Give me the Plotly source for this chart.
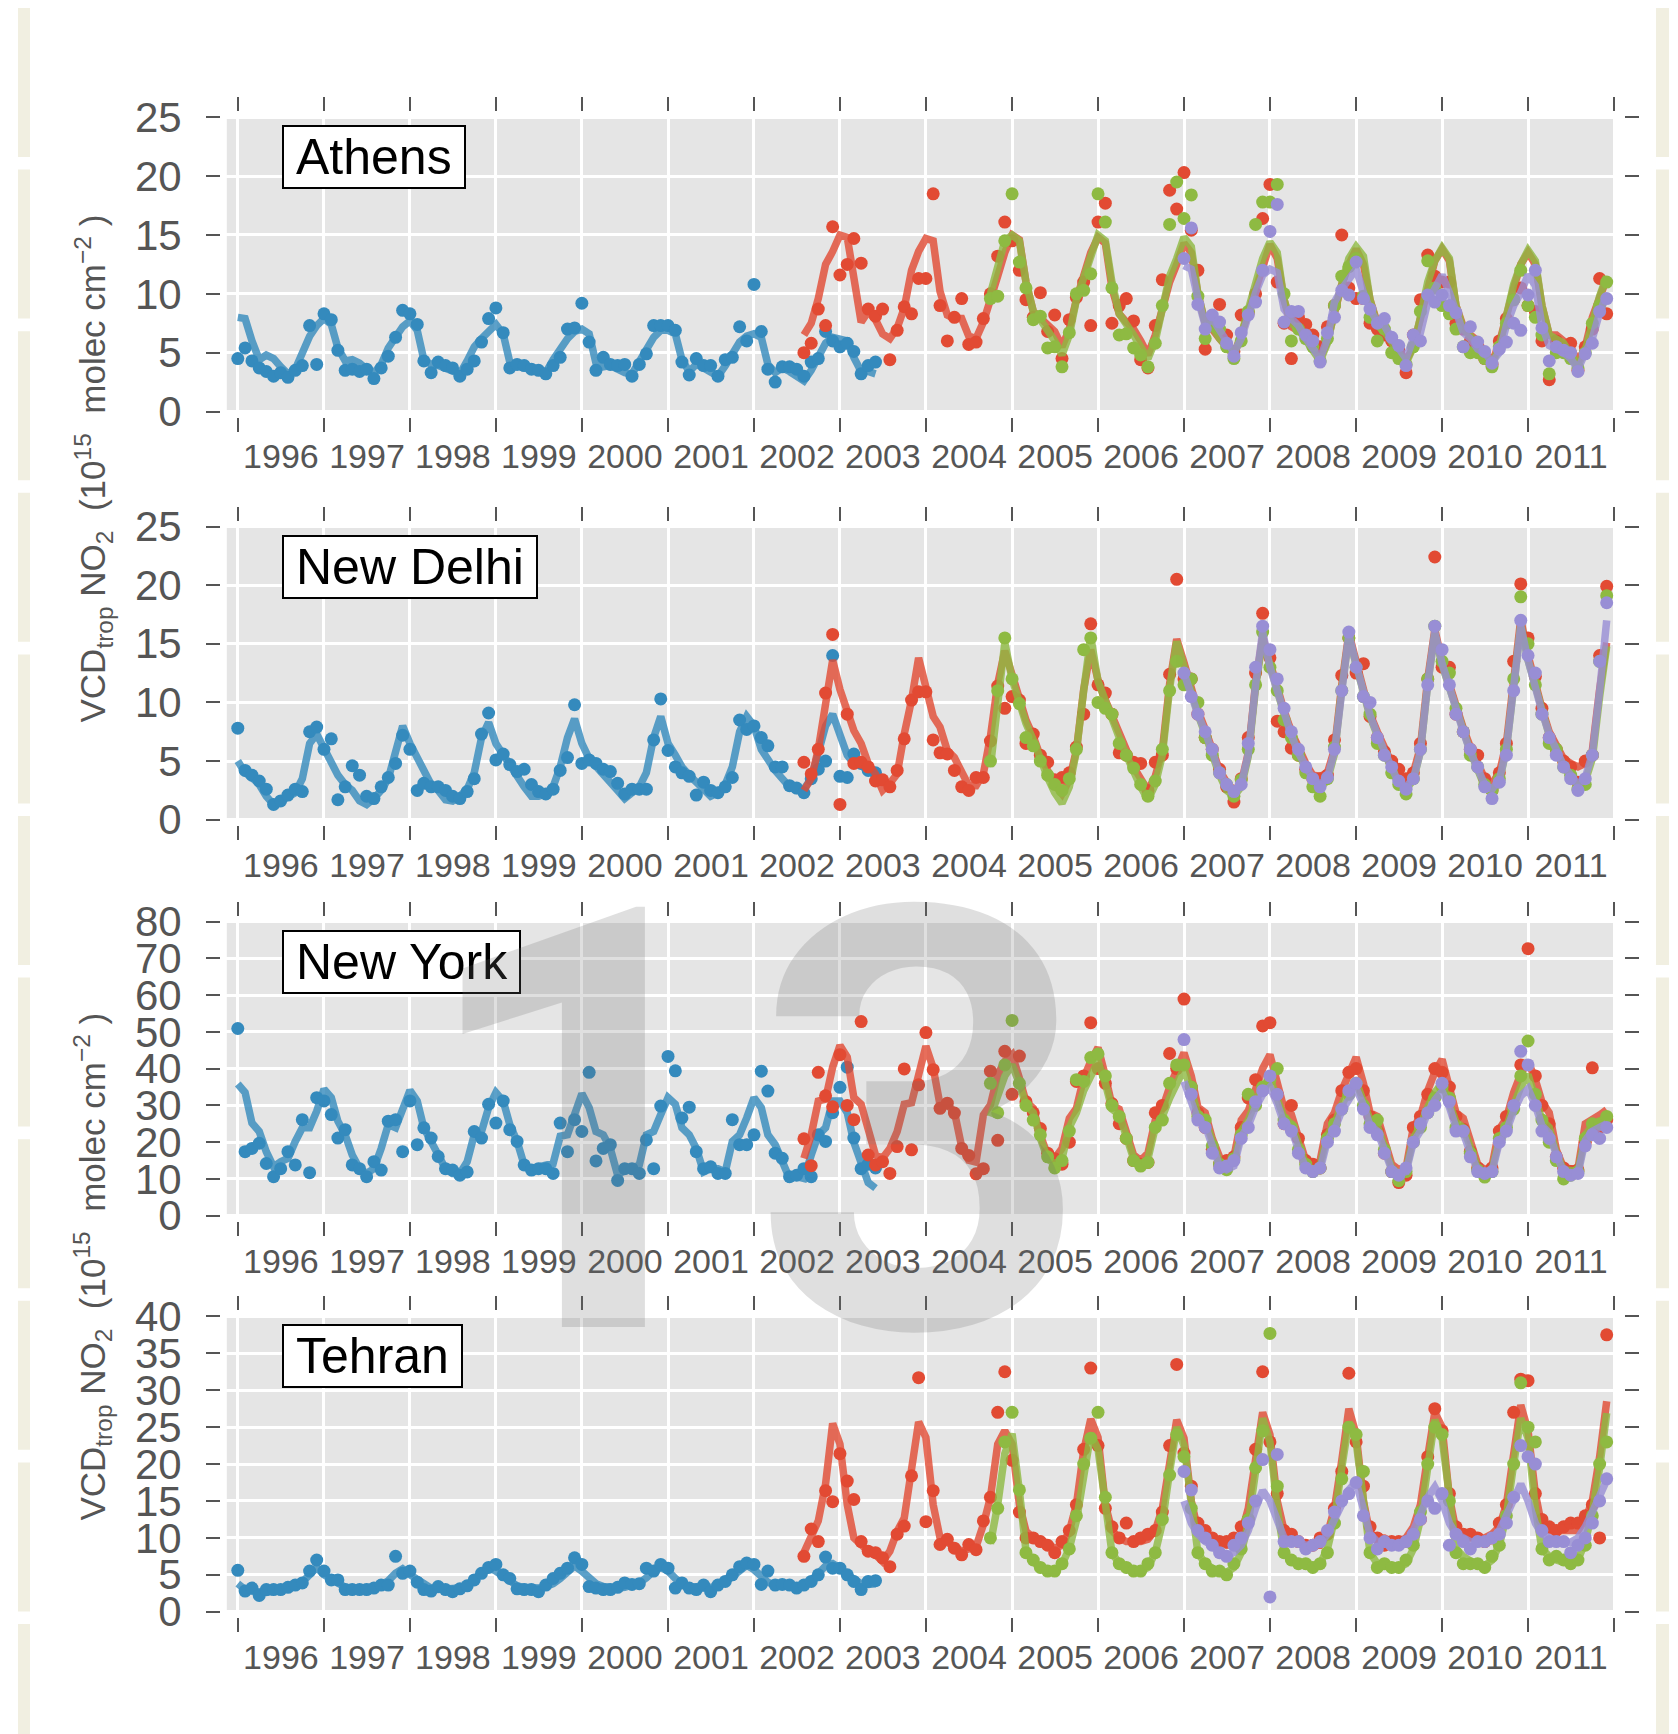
import pandas as pd
import plotly.graph_objects as go

W, H = 1678, 1734

# ---------------- data (10^15 molec cm^-2), monthly ----------------
GOME_START, SCIA_START, OMI_START, GOME2_START = "1996-01-01", "2002-08-01", "2004-10-01", "2007-01-01"

# ---- Athens ----
ATH_GOME = [4.5, 5.4, 4.3, 3.7, 3.4, 3.0, 3.3, 2.9, 3.5, 3.9, 7.3, 4.0,
            8.3, 7.8, 5.2, 3.5, 3.6, 3.4, 3.6, 2.8, 3.7, 4.7, 6.3, 8.6,
            8.3, 7.4, 4.3, 3.3, 4.2, 3.9, 3.7, 3.0, 3.6, 4.3, 5.9, 7.9,
            8.8, 6.7, 3.7, 4.0, 3.9, 3.6, 3.5, 3.2, 3.9, 4.6, 7.0, 7.1,
            9.2, 5.9, 3.5, 4.6, 4.0, 3.9, 4.0, 3.0, 4.0, 4.9, 7.3, 7.3,
            7.3, 6.9, 4.2, 3.1, 4.5, 3.9, 3.9, 3.0, 4.4, 4.6, 7.2, 6.0,
            10.8, 6.8, 3.6, 2.5, 3.8, 3.8, 3.6, 3.0, 4.2, 4.5, 6.8, 6.0,
            5.5, 5.8, 5.1, 3.2, 3.9, 4.2]
ATH_GOME_FIT = [8.0, 7.9, 6.0, 4.4, 4.8, 4.5, 3.8, 3.2, 3.6, 5.0, 6.4, 7.3,
                7.9, 7.4, 5.4, 4.3, 4.4, 4.1, 3.6, 3.3, 4.0, 5.4, 6.3, 7.2,
                7.7, 6.9, 4.4, 4.0, 3.9, 3.7, 3.4, 3.2, 4.3, 5.5, 6.2, 6.8,
                7.4, 6.6, 4.2, 3.9, 3.8, 3.6, 3.4, 3.3, 4.4, 5.4, 6.2, 6.8,
                7.0, 6.6, 4.1, 3.8, 3.9, 3.6, 3.3, 3.2, 4.3, 5.5, 6.3, 6.9,
                6.9, 6.6, 4.4, 3.4, 4.0, 3.7, 3.3, 3.0, 3.9, 5.0, 5.9, 6.4,
                6.6, 6.3, 4.0, 3.3, 3.7, 3.4, 3.0, 2.6, 3.5, 4.6, 5.8, 6.3,
                6.2, 6.0, 4.6, 3.4, 3.4, 3.2]
ATH_SCIA = [5.0, 5.8, 8.7, 7.3, 15.7,
            11.6, 12.5, 14.7, 12.6, 8.7, 8.1, 8.7, 4.4, 6.9, 8.9, 8.3, 11.3,
            11.3, 18.5, 9.0, 6.0, 8.0, 9.6, 5.7, 5.9, 7.9, 10.0, 13.2, 16.1,
            14.5, 12.0, 9.5, 8.0, 10.1, 6.8, 8.2, 4.5, 7.8, 9.7, 11.0, 7.3,
            16.1, 17.7, 7.5, 9.0, 9.6, 7.7, 4.4, 3.7, 7.3, 11.2, 18.8, 17.2,
            20.3, 15.4, 12.0, 5.3, 7.5, 9.1, 6.5, 5.1, 8.2, 8.4, 10.0, 16.4,
            19.3, 11.0, 7.5, 4.5, 8.0, 7.4, 6.5, 5.5, 7.2, 9.0, 15.0, 10.5,
            9.6, 9.6, 7.5, 7.0, 6.5, 6.0, 5.2, 3.3, 6.5, 9.5, 13.3, 11.5,
            11.0, 11.0, 7.5, 7.0, 6.0, 5.5, 4.5, 4.0, 6.0, 7.9, 9.5, 10.5,
            9.0, 8.5, 6.0, 2.7, 6.0, 5.5, 5.8, 3.5, 5.5, 7.0, 11.3, 8.3]
ATH_SCIA_FIT = [6.5, 7.5, 9.6, 12.5, 13.6,
                15.0, 14.8, 11.0, 7.6, 8.5, 7.8, 6.6, 6.2, 7.1, 8.8, 12.0, 13.6,
                14.7, 14.5, 10.2, 8.2, 7.9, 7.9, 6.4, 6.2, 7.6, 9.3, 11.5, 13.5,
                15.0, 14.6, 11.0, 8.5, 8.0, 7.5, 6.8, 5.5, 7.0, 9.5, 11.5, 13.5,
                14.8, 14.3, 10.5, 8.3, 7.6, 7.0, 6.0, 4.8, 6.5, 9.0, 11.0, 12.5,
                14.3, 13.5, 10.0, 7.5, 7.0, 6.2, 5.5, 4.8, 6.5, 8.5, 10.5, 12.5,
                14.2, 13.0, 9.5, 7.2, 6.8, 6.5, 5.5, 4.5, 6.0, 8.5, 10.8, 12.5,
                13.8, 12.5, 9.5, 7.5, 7.0, 6.3, 5.2, 4.3, 5.5, 8.0, 10.5, 12.8,
                13.8, 12.8, 9.0, 7.2, 6.5, 6.0, 5.0, 4.2, 5.8, 8.3, 10.5, 12.5,
                13.5, 12.5, 9.0, 6.5, 6.5, 6.0, 5.5, 4.2, 5.5, 8.0, 9.8, 11.3]
ATH_OMI = [9.6, 9.8, 14.5,
           18.5, 12.7, 10.5, 7.8, 8.1, 5.4, 5.5, 3.8, 6.7, 10.0, 10.3, 11.7,
           18.5, 16.1, 10.5, 6.5, 6.6, 5.4, 4.8, 3.8, 5.8, 9.0, 15.9, 19.5,
           16.4, 18.4, 9.8, 6.2, 7.3, 7.0, 5.5, 4.5, 6.0, 8.5, 15.9, 17.8,
           17.8, 19.3, 10.0, 6.0, 7.0, 6.2, 5.5, 4.3, 6.2, 9.0, 11.5, 12.3,
           13.0, 9.8, 8.0, 6.0, 7.0, 5.0, 4.5, 4.0, 5.5, 8.5, 12.8, 10.5,
           9.0, 8.3, 7.0, 5.5, 5.0, 5.0, 4.5, 3.8, 5.5, 7.5, 9.5, 12.0,
           9.0, 8.0, 6.5, 3.2, 5.0, 5.0, 4.5, 3.7, 5.0, 7.5, 9.0, 11.0]
ATH_OMI_FIT = [10.0, 12.5, 14.5,
               15.0, 14.5, 11.0, 8.5, 7.8, 7.0, 6.0, 4.8, 6.5, 9.5, 11.5, 13.5,
               15.0, 14.5, 11.0, 8.3, 7.5, 6.5, 5.5, 4.5, 6.0, 9.0, 11.5, 13.0,
               14.8, 14.0, 10.0, 7.5, 7.2, 6.2, 5.5, 4.8, 6.5, 8.5, 11.0, 13.0,
               14.4, 13.5, 9.5, 7.5, 7.0, 6.2, 5.2, 4.3, 5.8, 8.5, 11.0, 13.0,
               14.0, 13.2, 9.5, 7.3, 6.8, 6.0, 5.0, 4.1, 5.5, 8.0, 11.0, 12.8,
               13.9, 13.0, 9.0, 7.0, 6.5, 5.8, 4.8, 4.0, 5.5, 8.0, 10.8, 12.5,
               13.7, 12.8, 9.0, 6.5, 6.2, 5.8, 4.8, 3.9, 5.2, 7.8, 9.8, 11.5]
ATH_GOME2 = [13.0, 15.6, 9.1, 7.0, 8.2, 7.6, 5.8, 4.7, 6.7, 8.2, 9.3, 12.0,
             15.3, 17.6, 7.6, 8.5, 8.5, 6.5, 6.0, 4.2, 6.7, 8.0, 10.3, 9.9,
             12.7, 9.6, 8.7, 7.5, 7.9, 6.3, 5.6, 3.9, 6.5, 6.0, 9.9, 9.3,
             9.9, 9.0, 8.4, 5.5, 7.2, 5.9, 5.1, 4.1, 5.3, 5.9, 7.5, 6.9,
             9.9, 12.0, 7.1, 4.3, 5.5, 5.2, 5.0, 3.4, 4.9, 5.8, 8.5, 9.6]
ATH_GOME2_FIT = [12.4, 12.1, 9.6, 7.3, 7.9, 7.0, 5.9, 5.0, 6.2, 8.4, 10.1, 11.6,
                 12.1, 11.8, 8.7, 7.9, 7.3, 6.2, 5.3, 4.5, 6.2, 9.3, 10.4, 11.3,
                 12.1, 10.1, 8.7, 7.6, 7.3, 6.2, 5.3, 4.5, 6.2, 6.7, 9.3, 10.4,
                 11.6, 10.1, 8.4, 6.7, 6.2, 5.3, 5.0, 4.2, 5.0, 7.3, 9.0, 10.1,
                 11.6, 10.7, 7.3, 5.6, 5.3, 5.0, 4.5, 3.6, 5.0, 6.2, 8.4, 9.9]

# ---- New Delhi ----
DEL_GOME = [7.8, 4.2, 3.8, 3.3, 2.6, 1.3, 1.6, 2.1, 2.6, 2.4, 7.5, 7.9,
            6.0, 6.9, 1.7, 2.8, 4.6, 3.8, 2.0, 1.8, 2.8, 3.6, 4.8, 7.2,
            6.0, 2.5, 3.1, 2.8, 2.8, 2.5, 2.0, 1.8, 2.4, 3.5, 7.3, 9.1,
            5.1, 5.6, 4.7, 4.1, 4.3, 3.0, 2.4, 2.2, 2.6, 4.2, 5.3, 9.8,
            4.8, 5.1, 4.8, 4.3, 4.1, 3.1, 2.2, 2.6, 2.6, 2.6, 6.8, 10.3,
            5.9, 4.5, 4.0, 3.7, 2.1, 3.2, 2.5, 2.3, 2.8, 3.6, 8.5, 7.7,
            8.0, 7.0, 6.3, 4.5, 4.5, 2.9, 2.7, 2.3, 3.5, 4.3, 5.0, 14.0,
            3.7, 3.6, 5.6, 4.8, 4.2, 4.0]
DEL_GOME_FIT = [5.0, 4.0, 3.6, 3.0, 2.0, 1.3, 1.6, 2.0, 2.3, 3.5, 6.5, 7.3,
                6.0, 4.8, 3.8, 3.0, 2.5, 1.6, 1.3, 1.8, 2.5, 3.5, 6.0, 8.0,
                6.5, 5.3, 4.3, 3.0, 2.5, 1.7, 1.6, 2.0, 2.6, 4.0, 7.0, 8.3,
                6.5, 5.5, 4.5, 3.5, 2.8, 2.0, 2.0, 2.2, 2.8, 4.5, 7.0, 8.6,
                6.5, 5.2, 4.5, 3.8, 3.0, 2.5, 1.8, 2.3, 2.8, 4.0, 7.0, 8.8,
                6.5, 5.5, 4.5, 3.8, 3.2, 2.5, 2.0, 2.3, 3.0, 4.5, 7.5, 8.8,
                8.0, 6.0, 5.0, 4.2, 3.5, 2.8, 2.5, 2.6, 3.5, 5.5, 8.0, 9.0,
                7.0, 5.5, 4.8, 4.6, 4.2, 4.0]
DEL_SCIA = [4.9, 3.9, 6.0, 10.8, 15.8,
            1.3, 9.0, 4.8, 4.9, 4.5, 3.3, 3.4, 2.8, 4.2, 6.9, 10.2, 10.9,
            10.9, 6.8, 5.7, 5.6, 4.2, 2.8, 2.5, 3.6, 3.6, 6.7, 11.4, 9.5,
            10.5, 10.2, 6.5, 7.3, 5.5, 4.9, 3.4, 3.6, 4.0, 6.2, 9.0, 16.7,
            11.5, 10.8, 9.0, 5.7, 5.5, 4.9, 4.8, 2.5, 4.9, 5.5, 12.4, 20.5,
            12.0, 12.0, 9.0, 7.0, 6.0, 4.3, 2.8, 1.5, 3.5, 7.0, 12.5, 17.6,
            13.8, 8.4, 7.5, 6.1, 5.5, 4.3, 3.5, 3.5, 3.8, 6.8, 12.3, 15.5,
            12.5, 13.3, 8.8, 7.0, 5.8, 5.0, 4.3, 3.5, 4.0, 6.5, 12.0, 22.4,
            13.0, 13.0, 9.0, 7.5, 6.0, 5.5, 3.5, 2.5, 4.0, 6.5, 13.5, 20.1,
            15.5, 12.2, 9.5, 7.0, 6.0, 5.0, 4.5, 3.2, 5.0, 5.5, 14.0, 19.9]
DEL_SCIA_FIT = [2.5, 3.5, 6.0, 10.0, 13.6,
                11.1, 9.1, 7.6, 6.5, 4.8, 3.9, 2.5, 3.1, 3.9, 7.3, 10.2, 13.8,
                11.1, 8.8, 7.9, 5.9, 5.3, 4.2, 2.9, 2.9, 3.9, 7.1, 11.6, 14.4,
                12.2, 10.0, 8.5, 7.1, 5.4, 4.2, 3.0, 2.2, 3.4, 5.9, 11.1, 14.5,
                11.9, 10.2, 8.8, 7.4, 5.9, 4.5, 3.5, 2.5, 3.7, 5.9, 11.6, 15.4,
                13.4, 11.1, 9.3, 7.7, 5.9, 4.2, 3.2, 2.5, 3.1, 5.7, 11.6, 15.6,
                13.4, 11.0, 9.3, 7.5, 6.0, 4.8, 3.8, 3.7, 4.0, 6.0, 11.5, 15.9,
                13.5, 11.0, 9.0, 7.5, 6.0, 4.8, 3.6, 3.4, 4.0, 6.2, 12.0, 16.2,
                13.5, 11.5, 9.5, 7.8, 6.2, 4.8, 3.5, 3.1, 4.0, 6.5, 12.5, 17.1,
                14.0, 11.5, 9.5, 7.5, 6.2, 5.2, 4.8, 4.5, 4.8, 5.9, 11.1, 15.1]
DEL_OMI = [5.0, 11.0, 15.5,
           12.0, 9.9, 7.0, 6.3, 5.0, 3.8, 3.0, 2.5, 3.5, 6.0, 14.5, 15.5,
           10.0, 9.5, 9.0, 6.5, 5.5, 4.4, 3.0, 2.0, 3.3, 6.0, 11.0, 13.5,
           11.5, 12.0, 10.0, 7.0, 5.5, 4.0, 3.0, 2.0, 3.4, 6.0, 11.5, 16.0,
           13.0, 11.0, 8.5, 7.0, 5.5, 4.0, 2.8, 2.0, 3.5, 6.2, 11.0, 15.5,
           13.0, 10.5, 9.0, 6.5, 5.5, 4.0, 3.0, 2.2, 3.5, 6.0, 12.0, 16.5,
           13.5, 12.5, 9.5, 7.5, 5.5, 4.5, 3.0, 2.5, 3.5, 6.0, 12.0, 19.0,
           15.0, 11.5, 9.0, 6.5, 6.0, 4.5, 3.8, 2.6, 3.0, 5.5, 13.5, 19.1]
DEL_OMI_FIT = [4.5, 10.0, 15.1,
               12.0, 9.8, 8.2, 6.8, 5.0, 3.6, 2.3, 1.4, 2.8, 5.8, 11.0, 15.6,
               11.8, 10.0, 8.5, 7.0, 5.5, 4.0, 2.8, 1.7, 3.0, 5.5, 11.2, 15.2,
               13.0, 10.8, 9.0, 7.3, 5.5, 3.8, 2.5, 2.0, 2.8, 5.4, 11.3, 15.4,
               13.2, 10.8, 9.0, 7.2, 5.6, 4.3, 3.2, 2.7, 3.4, 5.6, 11.2, 15.6,
               13.2, 10.7, 8.8, 7.2, 5.6, 4.3, 3.0, 2.6, 3.4, 5.8, 11.6, 15.9,
               13.2, 11.2, 9.2, 7.5, 5.8, 4.3, 2.8, 2.3, 3.3, 6.0, 12.0, 16.6,
               13.6, 11.2, 9.2, 7.2, 5.8, 4.6, 3.8, 2.8, 3.3, 5.2, 10.5, 14.8]
DEL_GOME2 = [12.5, 10.5, 9.0, 7.5, 6.0, 4.0, 3.0, 2.4, 3.0, 6.5, 13.0, 16.5,
             14.5, 12.0, 9.5, 7.5, 6.0, 4.5, 3.5, 2.8, 3.6, 6.0, 11.0, 16.0,
             13.0, 10.5, 10.0, 7.0, 5.5, 4.5, 3.3, 2.6, 3.5, 6.0, 11.5, 16.5,
             14.5, 11.5, 9.0, 7.5, 6.0, 4.5, 2.8, 1.8, 3.2, 5.5, 11.0, 17.0,
             14.0, 12.5, 9.0, 7.0, 5.5, 4.5, 3.5, 2.5, 3.5, 5.5, 13.5, 18.5]
DEL_GOME2_FIT = [12.5, 10.5, 9.0, 7.5, 5.8, 4.0, 3.0, 2.4, 3.0, 5.6, 11.5, 16.0,
                 13.0, 11.0, 9.0, 7.2, 5.7, 4.5, 3.5, 3.0, 3.6, 5.8, 11.2, 15.8,
                 13.2, 10.8, 8.9, 7.3, 5.7, 4.4, 3.2, 2.8, 3.5, 5.8, 11.6, 16.0,
                 13.3, 11.2, 9.2, 7.5, 5.8, 4.4, 3.0, 2.6, 3.4, 6.0, 12.0, 16.5,
                 13.6, 11.2, 9.2, 7.3, 5.8, 4.6, 3.8, 3.0, 3.6, 5.6, 11.0, 17.0]

# ---- New York ----
NY_GOME = [50.9, 17.4, 18.3, 19.7, 14.2, 10.6, 12.8, 17.4, 13.8, 26.1, 11.7, 32.1,
           31.2, 27.5, 21.1, 23.4, 13.8, 12.8, 10.6, 14.7, 12.4, 25.7, 26.1, 17.4,
           31.2, 19.3, 23.9, 21.1, 16.1, 12.8, 12.4, 11.0, 11.9, 22.9, 21.1, 30.3,
           25.2, 31.2, 23.4, 20.2, 13.8, 12.4, 12.8, 12.8, 11.5, 25.2, 17.4, 26.1,
           22.9, 39.0, 14.9, 18.3, 19.3, 9.6, 12.8, 12.8, 11.5, 20.6, 12.8, 29.8,
           43.3, 39.4, 26.6, 29.5, 17.4, 12.8, 13.3, 11.5, 11.5, 26.1, 19.3, 19.3,
           22.0, 39.3, 33.9, 17.0, 15.6, 10.6, 11.0, 12.8, 10.6, 22.0, 20.2, 28.0,
           34.9, 40.4, 21.1, 12.8, 14.0, 13.0]
NY_GOME_FIT = [35.8, 33.5, 25.2, 22.9, 17.4, 13.3, 14.7, 15.6, 20.2, 23.9, 23.9, 28.4,
               34.4, 32.1, 25.7, 22.0, 16.5, 12.8, 11.5, 12.8, 18.3, 24.8, 23.9, 29.4,
               34.1, 31.2, 23.9, 20.2, 16.5, 12.8, 11.5, 11.5, 14.7, 22.0, 22.9, 29.4,
               33.5, 31.2, 24.8, 20.2, 13.8, 12.8, 13.3, 13.8, 14.2, 21.6, 22.0, 27.5,
               33.2, 29.4, 22.9, 22.0, 18.3, 11.0, 12.4, 12.8, 13.8, 22.0, 22.9, 27.5,
               32.1, 30.3, 23.9, 22.0, 18.3, 11.9, 12.8, 12.8, 11.9, 20.2, 22.0, 26.6,
               32.1, 29.4, 22.0, 19.3, 14.7, 10.1, 10.6, 10.1, 16.5, 22.0, 23.9, 31.2,
               31.2, 28.0, 20.0, 14.0, 9.0, 7.5]
NY_SCIA = [20.9, 13.6, 39.0, 32.6, 29.6,
           43.8, 30.0, 26.1, 52.8, 16.5, 13.8, 14.7, 11.5, 18.8, 39.9, 17.9, 35.6,
           49.8, 39.7, 29.2, 30.6, 27.9, 18.3, 16.4, 11.4, 12.8, 39.3, 20.5, 44.7,
           33.0, 43.4, 31.0, 28.0, 23.7, 17.0, 15.5, 14.0, 20.0, 36.5, 38.0, 52.5,
           40.0, 36.0, 30.5, 25.0, 21.0, 15.0, 14.0, 14.5, 28.0, 30.0, 44.1, 40.0,
           58.9, 35.0, 28.0, 24.0, 18.0, 14.0, 15.0, 16.0, 24.0, 32.0, 37.0, 51.6,
           52.5, 33.0, 25.0, 30.0, 21.0, 15.0, 14.0, 13.0, 22.0, 26.0, 34.0, 39.0,
           40.0, 34.0, 27.0, 23.0, 17.0, 12.0, 9.0, 11.0, 24.0, 27.0, 33.0, 40.0,
           39.0, 35.0, 27.0, 23.5, 17.5, 13.0, 11.5, 13.0, 23.0, 27.0, 30.0, 41.0,
           72.6, 38.0, 30.0, 25.0, 16.0, 13.0, 12.0, 12.5, 20.0, 40.2, 24.0, 26.0]
NY_SCIA_FIT = [15.6, 22.0, 31.2, 31.7, 40.4,
               46.3, 43.1, 32.1, 30.3, 22.9, 16.5, 15.6, 18.3, 22.9, 30.3, 30.7, 38.0,
               46.1, 40.2, 30.1, 30.1, 28.3, 18.7, 15.1, 14.6, 27.4, 30.1, 38.4, 42.0,
               43.8, 37.4, 31.0, 29.2, 21.9, 16.4, 15.5, 18.3, 26.5, 29.2, 37.4, 42.0,
               45.7, 38.0, 30.0, 29.0, 22.0, 16.5, 15.0, 17.0, 26.0, 29.0, 35.0, 40.0,
               44.3, 38.0, 29.5, 28.0, 21.0, 16.0, 14.5, 16.0, 26.0, 28.5, 35.0, 40.0,
               43.8, 37.0, 29.0, 27.5, 20.5, 15.0, 13.5, 15.0, 25.0, 28.0, 34.0, 39.0,
               43.1, 36.0, 28.0, 27.0, 20.0, 14.0, 12.5, 13.0, 24.0, 27.0, 34.0, 39.0,
               42.5, 35.5, 28.0, 26.5, 19.5, 14.0, 12.5, 13.5, 23.5, 26.5, 33.5, 38.5,
               42.0, 37.0, 31.0, 28.0, 18.0, 13.0, 12.8, 12.8, 25.0, 26.0, 27.4, 28.8]
NY_OMI = [36.0, 28.0, 41.0,
          53.1, 36.0, 30.0, 26.0, 22.0, 16.0, 13.0, 15.0, 23.0, 37.0, 36.5, 43.0,
          44.0, 38.0, 30.0, 27.0, 21.0, 15.0, 13.5, 14.5, 24.0, 26.0, 36.0, 41.0,
          41.0, 35.0, 27.0, 26.0, 19.0, 14.0, 12.5, 15.5, 22.0, 33.0, 30.0, 35.0,
          37.0, 40.0, 26.0, 24.0, 18.0, 14.0, 12.0, 13.0, 21.0, 25.0, 29.0, 33.0,
          36.0, 30.0, 25.0, 26.0, 18.0, 12.0, 9.5, 12.0, 20.0, 24.0, 28.0, 32.0,
          35.0, 32.0, 24.0, 23.0, 17.0, 12.5, 10.5, 12.0, 21.0, 24.0, 29.0, 38.0,
          47.5, 33.0, 26.0, 20.0, 15.0, 10.0, 11.0, 12.0, 21.0, 25.0, 25.0, 27.0]
NY_OMI_FIT = [27.0, 33.0, 38.0,
              41.0, 36.0, 30.0, 28.0, 21.0, 15.5, 14.0, 15.5, 24.0, 28.0, 34.0, 38.0,
              42.0, 36.0, 29.0, 27.5, 21.0, 15.5, 14.0, 15.5, 24.0, 27.0, 32.0, 36.0,
              40.0, 34.0, 27.5, 26.0, 20.0, 14.5, 13.0, 14.5, 23.0, 26.0, 31.0, 35.0,
              37.4, 32.0, 26.5, 25.0, 19.0, 14.0, 12.5, 13.5, 22.0, 25.0, 30.0, 34.0,
              36.5, 31.0, 26.0, 24.5, 18.5, 13.0, 11.5, 12.5, 21.0, 24.5, 29.5, 33.5,
              36.0, 31.0, 25.5, 24.0, 18.0, 13.0, 11.5, 12.5, 21.0, 24.0, 30.0, 35.0,
              38.4, 32.5, 26.0, 24.0, 17.0, 12.5, 12.0, 12.0, 22.0, 24.5, 25.5, 27.0]
NY_GOME2 = [47.9, 33.0, 26.0, 24.0, 17.0, 13.0, 13.5, 15.0, 21.0, 24.0, 31.0, 34.0,
            38.0, 33.0, 25.0, 23.0, 17.0, 13.0, 12.0, 13.0, 20.0, 23.0, 29.0, 34.0,
            36.0, 29.0, 24.0, 22.0, 17.0, 12.0, 11.0, 13.0, 20.0, 25.0, 28.0, 30.0,
            36.0, 31.0, 23.0, 23.0, 16.0, 12.0, 11.5, 12.0, 20.0, 23.0, 30.0, 44.7,
            41.0, 30.0, 23.0, 21.0, 16.0, 12.0, 11.0, 11.5, 19.0, 22.0, 21.0, 24.0]
NY_GOME2_FIT = [36.5, 31.0, 26.0, 24.5, 18.5, 13.5, 12.5, 13.5, 21.5, 24.5, 29.5, 33.0,
                35.0, 30.5, 25.0, 23.5, 18.0, 13.0, 12.0, 12.5, 20.5, 23.5, 28.5, 32.0,
                34.7, 30.0, 24.5, 23.0, 17.5, 12.5, 11.5, 12.0, 20.0, 23.0, 28.0, 31.5,
                33.8, 29.5, 24.0, 22.5, 17.0, 12.5, 11.5, 12.0, 20.0, 23.0, 28.5, 32.5,
                34.5, 30.0, 24.5, 22.5, 16.5, 12.0, 11.5, 11.5, 20.5, 23.0, 24.0, 25.0]

# ---- Tehran ----
TEH_GOME = [5.6, 2.8, 3.2, 2.2, 3.0, 3.0, 3.0, 3.3, 3.6, 3.9, 5.5, 7.0,
            5.5, 4.3, 4.3, 3.0, 3.0, 3.0, 3.0, 3.2, 3.6, 3.6, 7.5, 5.2,
            5.5, 4.0, 3.0, 2.8, 3.4, 3.0, 2.7, 3.1, 3.5, 4.3, 5.2, 6.0,
            6.4, 5.0, 4.5, 3.1, 3.0, 3.0, 2.7, 3.6, 4.5, 5.2, 5.9, 7.3,
            6.4, 3.4, 3.2, 3.0, 3.0, 3.3, 3.9, 3.7, 3.8, 5.9, 5.5, 6.4,
            5.9, 3.2, 3.9, 3.2, 3.0, 3.6, 2.7, 3.6, 4.1, 5.0, 6.1, 6.6,
            6.4, 3.7, 5.5, 3.6, 3.7, 3.6, 3.2, 3.6, 4.1, 5.0, 7.4, 5.9,
            5.9, 5.0, 4.1, 3.0, 4.1, 4.2]
TEH_GOME_FIT = [3.8, 3.0, 2.8, 2.6, 2.6, 2.8, 3.0, 3.2, 3.5, 4.0, 5.0, 6.0,
                5.0, 4.5, 3.8, 3.3, 3.2, 3.2, 3.2, 3.3, 3.6, 4.2, 5.2, 5.8,
                5.0, 4.3, 3.6, 3.2, 3.0, 3.0, 3.0, 3.2, 3.6, 4.3, 5.2, 6.0,
                5.5, 4.8, 4.0, 3.5, 3.3, 3.2, 3.2, 3.4, 3.8, 4.5, 5.5, 6.2,
                5.5, 4.5, 3.8, 3.4, 3.2, 3.2, 3.3, 3.5, 3.9, 4.6, 5.5, 6.0,
                5.5, 4.5, 3.8, 3.4, 3.2, 3.2, 3.3, 3.5, 4.0, 4.8, 5.8, 6.3,
                5.7, 4.7, 4.0, 3.6, 3.4, 3.4, 3.5, 3.7, 4.2, 5.2, 6.2, 6.5,
                5.9, 5.0, 4.3, 3.8, 3.7, 3.8]
TEH_SCIA = [7.5, 11.2, 9.5, 16.4, 14.9,
            21.4, 17.7, 15.2, 9.5, 8.2, 8.0, 7.3, 6.1, 10.5, 11.6, 18.4, 31.7,
            12.2, 16.4, 9.1, 9.8, 8.6, 7.7, 9.1, 8.4, 12.3, 15.5, 27.0, 32.5,
            20.5, 13.5, 10.0, 10.0, 9.5, 9.0, 8.0, 9.5, 11.0, 14.5, 22.0, 33.0,
            22.5, 14.0, 11.5, 10.0, 12.0, 9.5, 10.0, 10.5, 11.0, 13.5, 22.5, 33.5,
            21.5, 17.0, 12.0, 11.0, 10.0, 9.5, 9.5, 10.0, 11.5, 12.5, 22.0, 32.5,
            23.0, 16.0, 11.0, 10.5, 9.5, 9.0, 9.0, 10.0, 10.5, 14.0, 19.0, 32.3,
            23.0, 17.0, 11.5, 10.0, 9.0, 9.5, 9.5, 9.5, 10.5, 12.5, 21.0, 27.5,
            24.5, 16.0, 11.5, 10.5, 10.5, 10.0, 9.5, 10.0, 12.0, 14.5, 27.0, 31.5,
            31.3, 16.0, 12.5, 11.5, 11.0, 11.5, 12.0, 12.0, 13.0, 14.5, 10.0, 37.5]
TEH_SCIA_FIT = [8.0, 10.5, 12.3, 17.3, 25.5,
                22.7, 14.5, 10.0, 8.9, 8.2, 7.7, 6.8, 8.2, 10.9, 12.7, 19.1, 25.7,
                23.6, 14.5, 10.0, 9.3, 8.9, 8.2, 8.5, 8.8, 11.8, 15.5, 22.7, 24.5,
                22.7, 14.5, 10.9, 10.0, 9.8, 9.1, 8.6, 9.0, 10.9, 14.5, 21.8, 26.1,
                23.6, 14.5, 11.0, 10.0, 9.5, 9.5, 9.5, 9.8, 11.0, 14.0, 20.0, 26.0,
                23.5, 15.0, 11.0, 10.5, 10.0, 9.5, 9.0, 9.2, 10.5, 14.0, 20.0, 27.0,
                24.0, 15.0, 11.0, 10.0, 9.5, 9.0, 9.0, 9.0, 10.5, 14.0, 20.5, 27.5,
                24.0, 15.0, 10.5, 10.0, 10.0, 9.5, 9.5, 10.0, 11.5, 14.5, 21.0, 27.0,
                25.0, 15.5, 11.0, 10.5, 10.0, 10.0, 10.0, 10.5, 11.5, 14.5, 21.0, 28.0,
                24.5, 16.0, 11.5, 11.0, 11.0, 11.0, 11.0, 11.0, 12.5, 15.0, 21.0, 28.5]
TEH_OMI = [10.0, 14.0, 23.0,
           27.0, 16.5, 8.0, 7.0, 6.0, 5.5, 5.5, 6.5, 8.5, 13.0, 20.0, 23.5,
           27.0, 15.5, 8.0, 6.5, 6.0, 5.5, 5.5, 6.5, 8.0, 12.5, 18.5, 24.0,
           21.0, 14.0, 8.0, 6.5, 5.5, 5.5, 5.0, 6.5, 8.5, 12.5, 19.5, 24.5,
           37.7, 17.0, 8.0, 7.0, 6.5, 6.5, 6.0, 6.5, 8.0, 12.0, 18.0, 25.0,
           24.0, 19.0, 8.0, 6.0, 6.5, 6.0, 6.0, 7.0, 9.0, 13.5, 20.0, 25.0,
           24.0, 15.0, 8.0, 6.5, 6.5, 6.5, 6.0, 7.5, 9.0, 13.0, 20.0, 31.0,
           25.0, 23.0, 8.5, 7.0, 7.5, 7.0, 6.5, 7.0, 9.0, 13.0, 20.0, 23.0]
TEH_OMI_FIT = [9.2, 14.5, 21.4,
               24.1, 16.4, 8.2, 6.8, 5.9, 5.5, 5.5, 6.4, 8.6, 12.3, 19.1, 24.1,
               22.0, 14.0, 8.0, 6.5, 6.0, 5.5, 5.5, 6.0, 8.0, 12.0, 19.0, 25.0,
               22.5, 14.0, 8.0, 6.5, 5.8, 5.3, 5.3, 6.0, 8.0, 12.0, 19.0, 26.2,
               23.0, 14.0, 8.0, 7.0, 6.5, 6.2, 6.2, 6.5, 8.5, 12.5, 19.5, 25.7,
               23.0, 14.0, 8.0, 6.5, 6.2, 6.0, 6.0, 6.5, 8.5, 12.5, 19.5, 26.0,
               23.5, 14.5, 8.5, 7.5, 7.0, 6.2, 6.2, 7.0, 9.0, 13.0, 20.0, 26.2,
               23.5, 14.0, 8.5, 7.5, 7.0, 6.7, 6.7, 7.0, 9.5, 13.5, 19.5, 26.9]
TEH_GOME2 = [19.0, 16.5, 11.0, 10.0, 9.0, 8.0, 7.5, 9.0, 10.0, 12.0, 15.0, 20.6,
             2.0, 21.3, 9.5, 9.5, 9.5, 8.5, 9.0, 9.5, 11.0, 13.5, 15.0, 16.0,
             17.5, 13.0, 10.0, 8.5, 9.5, 9.0, 9.0, 9.5, 10.5, 12.5, 15.0, 14.0,
             16.0, 9.0, 10.5, 9.5, 8.5, 9.5, 9.5, 10.0, 10.5, 12.0, 15.5, 22.5,
             21.0, 20.0, 11.0, 9.5, 9.5, 9.5, 8.0, 9.0, 10.0, 12.0, 15.0, 18.0]
TEH_GOME2_FIT = [15.0, 12.0, 10.5, 9.5, 9.0, 8.0, 7.6, 8.0, 9.0, 11.0, 14.0, 16.4,
                 15.0, 12.0, 10.0, 9.5, 9.5, 9.0, 9.0, 9.2, 10.5, 12.5, 15.0, 16.5,
                 17.6, 13.5, 10.5, 9.5, 9.2, 9.0, 9.0, 9.5, 11.0, 13.0, 15.5, 16.9,
                 15.0, 12.0, 10.5, 10.0, 9.5, 9.4, 9.4, 9.8, 11.0, 13.0, 15.5, 17.3,
                 15.0, 12.0, 10.5, 10.0, 9.6, 9.4, 9.4, 10.0, 11.5, 13.5, 16.0, 17.8]

CITIES = ["Athens", "New Delhi", "New York", "Tehran"]
YMAX = [25, 25, 80, 40]
YDTICK = [5, 5, 10, 5]

# ---------------- styling ----------------
C_BLUE, C_RED, C_GREEN, C_PURPLE = "#348ABD", "#E24A33", "#8EBA42", "#988ED5"
TXT = "#555555"
REG = "Liberation Sans, Arial, Helvetica, sans-serif"

OFF = 8  # page offset of the figure inside the browser window
# pixel layout of each panel (value-0 line and top-value line), window coords
PANEL_TOP = [117.3, 526.5, 921.5, 1316.4]
PANEL_BOT = [411.5, 819.7, 1215.7, 1611.7]
X_DOM_PX = (221, 1624)
TICK1996_PX, TICK2012_PX, GRAY_LEFT_PX = 237.8, 1614.0, 226.8
GAP = 5

def px_x(v):
    return (v - OFF) / W

def px_y(v):
    return 1 - (v - OFF) / H

def months(start, n):
    return pd.date_range(start, periods=n, freq="MS")

series = {
    "Athens": [(ATH_GOME, ATH_GOME_FIT, GOME_START, C_BLUE),
               (ATH_SCIA, ATH_SCIA_FIT, SCIA_START, C_RED),
               (ATH_OMI, ATH_OMI_FIT, OMI_START, C_GREEN),
               (ATH_GOME2, ATH_GOME2_FIT, GOME2_START, C_PURPLE)],
    "New Delhi": [(DEL_GOME, DEL_GOME_FIT, GOME_START, C_BLUE),
                  (DEL_SCIA, DEL_SCIA_FIT, SCIA_START, C_RED),
                  (DEL_OMI, DEL_OMI_FIT, OMI_START, C_GREEN),
                  (DEL_GOME2, DEL_GOME2_FIT, GOME2_START, C_PURPLE)],
    "New York": [(NY_GOME, NY_GOME_FIT, GOME_START, C_BLUE),
                 (NY_SCIA, NY_SCIA_FIT, SCIA_START, C_RED),
                 (NY_OMI, NY_OMI_FIT, OMI_START, C_GREEN),
                 (NY_GOME2, NY_GOME2_FIT, GOME2_START, C_PURPLE)],
    "Tehran": [(TEH_GOME, TEH_GOME_FIT, GOME_START, C_BLUE),
               (TEH_SCIA, TEH_SCIA_FIT, SCIA_START, C_RED),
               (TEH_OMI, TEH_OMI_FIT, OMI_START, C_GREEN),
               (TEH_GOME2, TEH_GOME2_FIT, GOME2_START, C_PURPLE)],
}

fig = go.Figure()
layout = dict(width=W, height=H, margin=dict(l=0, r=0, t=0, b=0, pad=0, autoexpand=False),
              paper_bgcolor="white", plot_bgcolor="rgba(0,0,0,0)",
              showlegend=False, shapes=[], annotations=[])

px_per_year = (TICK2012_PX - TICK1996_PX) / 16
day = pd.Timedelta(days=365.25)
x_left = pd.Timestamp("1996-01-01") - day * ((TICK1996_PX - X_DOM_PX[0]) / px_per_year)
x_right = pd.Timestamp("2012-01-01") + day * ((X_DOM_PX[1] - TICK2012_PX) / px_per_year)
gray_left = pd.Timestamp("1996-01-01") - day * ((TICK1996_PX - GRAY_LEFT_PX) / px_per_year)

for i, city in enumerate(CITIES):
    sfx = "" if i == 0 else str(i + 1)
    xa, ya = "x" + sfx, "y" + sfx
    top, bot, ymax = PANEL_TOP[i], PANEL_BOT[i], YMAX[i]
    ppu = (bot - top) / ymax
    pad = GAP / ppu
    layout["xaxis" + sfx] = dict(
        domain=[px_x(X_DOM_PX[0]), px_x(X_DOM_PX[1])], anchor=ya, type="date",
        range=[x_left, x_right], tick0="1996-01-01", dtick="M12", tickformat="%Y",
        ticklabelmode="period", tickangle=0, ticks="outside", ticklen=14, tickwidth=2,
        tickcolor=TXT, mirror="ticks", showline=False, showgrid=True, gridcolor="white",
        gridwidth=2.5, zeroline=False, automargin=False,
        tickfont=dict(family=REG, size=34, color=TXT), ticklabelstandoff=-4)
    layout["yaxis" + sfx] = dict(
        domain=[px_y(bot + GAP), px_y(top - GAP)], anchor=xa,
        range=[-pad, ymax + pad], tick0=0, dtick=YDTICK[i],
        ticks="outside", ticklen=14, tickwidth=2, tickcolor=TXT, mirror="ticks",
        showline=False, showgrid=True, gridcolor="white", gridwidth=2.5, zeroline=False,
        automargin=False, tickfont=dict(family=REG, size=42, color=TXT),
        ticklabelstandoff=16)
    # gray axes patch
    layout["shapes"].append(dict(type="rect", xref=xa, yref=ya, x0=gray_left,
                                 x1="2012-01-01", y0=0, y1=ymax, fillcolor="#E5E5E5",
                                 line=dict(width=0), layer="below"))
    for dots, fit, start, col in series[city]:
        fig.add_trace(go.Scatter(x=months(start, len(fit)), y=fit, mode="lines",
                                 line=dict(color=col, width=7.5), opacity=0.8,
                                 xaxis=xa, yaxis=ya, hoverinfo="skip"))
        fig.add_trace(go.Scatter(x=months(start, len(dots)), y=dots, mode="markers",
                                 marker=dict(color=col, size=13, line=dict(width=0)),
                                 xaxis=xa, yaxis=ya))
    # city label box
    layout["annotations"].append(dict(
        text="\u2009" + city + "\u2009", xref="paper", yref="paper",
        x=px_x(282), y=px_y(top + 8), xanchor="left", yanchor="top", showarrow=False,
        font=dict(family=REG, size=50, color="black"),
        bgcolor="white", bordercolor="black", borderwidth=2, borderpad=2))

# shared y-axis titles
ytitle = "VCD<sub>trop</sub> NO<sub>2</sub>  (10<sup>15</sup>  molec cm<sup>−2</sup> )"
for a, b in [(0, 1), (2, 3)]:
    yc = (PANEL_TOP[a] + PANEL_BOT[b]) / 2
    layout["annotations"].append(dict(
        text=ytitle, xref="paper", yref="paper", x=px_x(93), y=px_y(yc),
        xanchor="center", yanchor="middle", textangle=-90, showarrow=False,
        font=dict(family=REG, size=35, color=TXT)))

# slide watermark "13"
layout["annotations"].append(dict(
    text="13", xref="paper", yref="paper", x=px_x(752), y=px_y(1125),
    xanchor="center", yanchor="middle", showarrow=False,
    font=dict(family="Roboto, Liberation Sans, sans-serif", size=590,
              color="rgba(110,110,110,0.22)", weight=700)))

# beige slide-frame strips on both sides
for k in range(11):
    y0 = 8 + 161.6 * k
    y1 = min(y0 + 149, H + OFF)
    for x0, x1 in [(18, 30), (1656, 1669)]:
        layout["shapes"].append(dict(type="rect", xref="paper", yref="paper",
                                     x0=px_x(x0), x1=px_x(x1), y0=px_y(y1), y1=px_y(y0),
                                     fillcolor="#F1EFE1", line=dict(width=0), layer="below"))

fig.update_layout(**layout)
fig.write_html("out.html")
